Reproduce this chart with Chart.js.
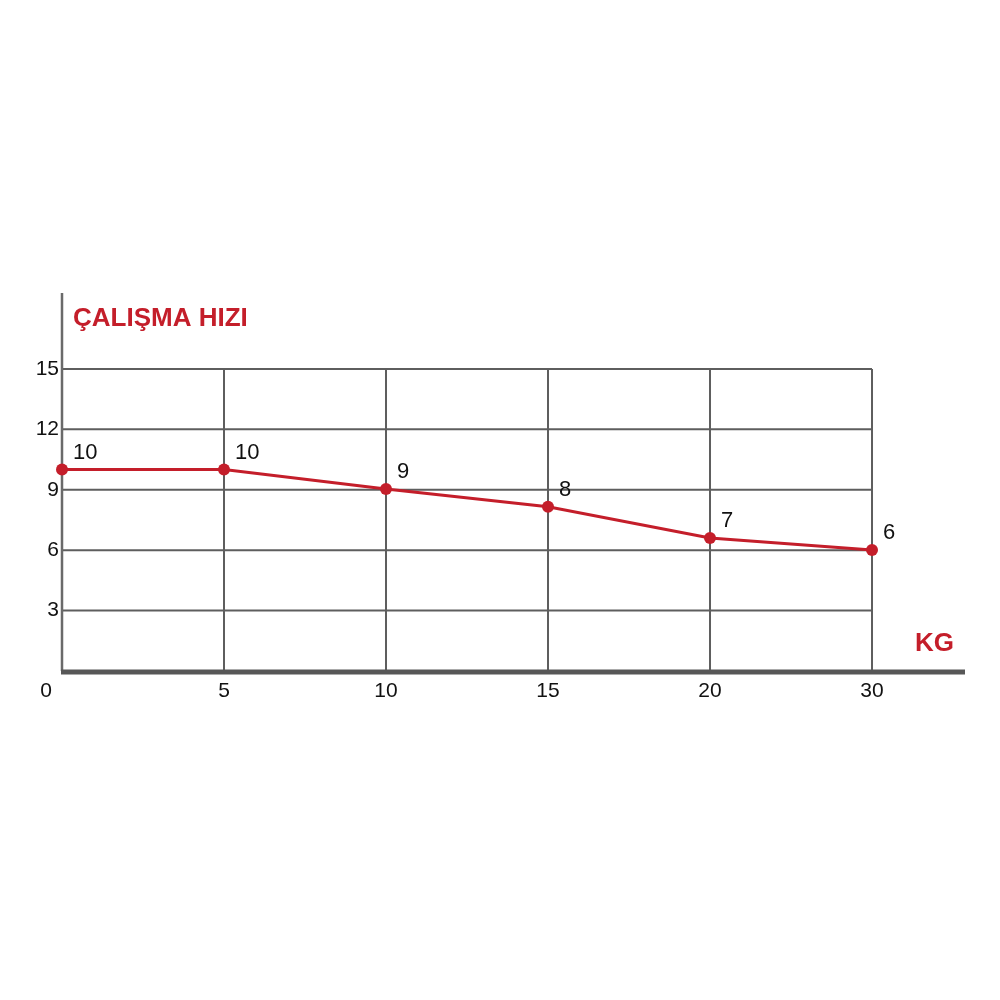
<!DOCTYPE html>
<html>
<head>
<meta charset="utf-8">
<script src="https://cdn.jsdelivr.net/npm/chart.js@4"></script>
<style>
  html, body { margin: 0; padding: 0; background: #fff; }
  #wrap { width: 1000px; height: 1000px; }
</style>
</head>
<body>
<div id="wrap"><canvas id="myChart" width="1000" height="1000"></canvas></div>
<script>
// kg categories along the bottom
const categories = ["0", "5", "10", "15", "20", "30"];
// plotted heights of the points
const speedValues = [10, 10, 9.04, 8.16, 6.6, 6.01];
// the numbers written next to the points
const pointLabels = ["10", "10", "9", "8", "7", "6"];
const yTicks = [3, 6, 9, 12, 15];

const RED = "#c41e2a";
const GRID = "#5e5e5e";
const FONT = "'Liberation Sans', Arial, sans-serif";

const points = speedValues.map((v, i) => ({ x: i, y: v }));

// grid, axes and text drawn from the chart scales
const frame = {
  id: "frame",
  beforeDatasetsDraw(chart) {
    const ctx = chart.ctx;
    const xs = chart.scales.x;
    const ys = chart.scales.y;
    const x0 = xs.getPixelForValue(0);
    const xEnd = xs.getPixelForValue(categories.length - 1);
    const y0 = ys.getPixelForValue(0);
    const yTop = ys.getPixelForValue(15);
    ctx.save();
    ctx.strokeStyle = GRID;
    ctx.lineWidth = 2;
    yTicks.forEach(t => {
      const y = ys.getPixelForValue(t);
      ctx.beginPath();
      ctx.moveTo(x0, y);
      ctx.lineTo(xEnd, y);
      ctx.stroke();
    });
    for (let i = 1; i < categories.length; i++) {
      const x = xs.getPixelForValue(i);
      ctx.beginPath();
      ctx.moveTo(x, yTop);
      ctx.lineTo(x, y0);
      ctx.stroke();
    }
    // y axis line up to the top
    ctx.strokeStyle = "#6a6a6a";
    ctx.lineWidth = 2.5;
    ctx.beginPath();
    ctx.moveTo(x0, ys.top);
    ctx.lineTo(x0, y0);
    ctx.stroke();
    // thick base line
    ctx.strokeStyle = "#575757";
    ctx.lineWidth = 5;
    ctx.beginPath();
    ctx.moveTo(x0 - 1, y0 + 1);
    ctx.lineTo(xs.right, y0 + 1);
    ctx.stroke();

    // tick labels
    ctx.fillStyle = "#111";
    ctx.font = "21px " + FONT;
    ctx.textAlign = "right";
    ctx.textBaseline = "middle";
    yTicks.forEach(t => {
      ctx.fillText(String(t), x0 - 3, ys.getPixelForValue(t));
    });
    ctx.textAlign = "center";
    categories.forEach((c, i) => {
      let x = xs.getPixelForValue(i);
      if (i === 0) x -= 16;
      ctx.fillText(c, x, y0 + 20);
    });

    // titles
    ctx.fillStyle = RED;
    ctx.font = "bold 26px " + FONT;
    ctx.textAlign = "left";
    ctx.fillText("ÇALIŞMA HIZI", x0 + 11, ys.getPixelForValue(17.5));
    ctx.fillText("KG", xEnd + 43, ys.getPixelForValue(1.35));
    ctx.restore();
  },
  afterDatasetsDraw(chart) {
    const ctx = chart.ctx;
    const meta = chart.getDatasetMeta(0);
    ctx.save();
    ctx.fillStyle = "#111";
    ctx.font = "22px " + FONT;
    ctx.textAlign = "left";
    ctx.textBaseline = "middle";
    meta.data.forEach((el, i) => {
      ctx.fillText(pointLabels[i], el.x + 11, el.y - 17);
    });
    ctx.restore();
  }
};

new Chart(document.getElementById("myChart").getContext("2d"), {
  type: "line",
  data: {
    datasets: [{
      data: points,
      borderColor: RED,
      backgroundColor: RED,
      borderWidth: 3,
      pointRadius: 6,
      pointBackgroundColor: RED,
      pointBorderWidth: 0,
      tension: 0,
      clip: false
    }]
  },
  options: {
    responsive: false,
    animation: false,
    events: [],
    layout: { padding: { left: 62, right: 35, top: 293, bottom: 329 } },
    plugins: { legend: { display: false }, tooltip: { enabled: false } },
    scales: {
      x: { type: "linear", min: 0, max: 5.574, display: false },
      y: { min: 0, max: 18.77, display: false }
    }
  },
  plugins: [frame]
});
</script>
</body>
</html>
